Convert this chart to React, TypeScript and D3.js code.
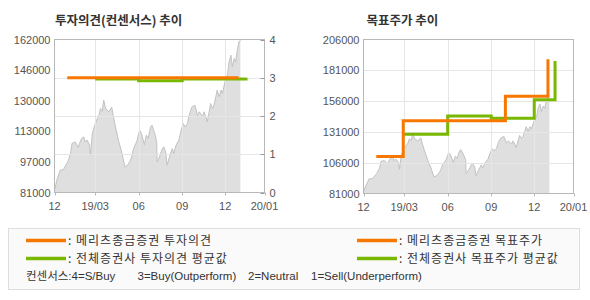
import React from 'react';
import * as d3 from 'd3';

// ---------- DATA ----------
const priceDates = [
  '2018-12-05','2018-12-10','2018-12-17','2018-12-24','2019-01-02','2019-01-08','2019-01-11','2019-01-18',
  '2019-01-24','2019-01-31','2019-02-05','2019-02-08','2019-02-12','2019-02-17','2019-02-19','2019-02-23',
  '2019-02-28','2019-03-04','2019-03-09','2019-03-12','2019-03-16','2019-03-19','2019-03-23','2019-03-30',
  '2019-04-05','2019-04-08','2019-04-13','2019-04-20','2019-04-26','2019-04-29','2019-05-03','2019-05-08',
  '2019-05-13','2019-05-17','2019-05-21','2019-05-26','2019-05-29','2019-06-03','2019-06-07','2019-06-13',
  '2019-06-17','2019-06-21','2019-06-26','2019-06-29','2019-07-05','2019-07-09','2019-07-10','2019-07-15',
  '2019-07-21','2019-07-24','2019-07-28','2019-07-31','2019-08-05','2019-08-11','2019-08-14','2019-08-19',
  '2019-08-25','2019-08-29','2019-09-03','2019-09-07','2019-09-12','2019-09-15','2019-09-19','2019-09-22',
  '2019-09-28','2019-10-03','2019-10-07','2019-10-10','2019-10-14','2019-10-17','2019-10-21','2019-10-24',
  '2019-10-28','2019-10-31','2019-11-04','2019-11-07','2019-11-11','2019-11-14','2019-11-18','2019-11-22',
  '2019-11-25','2019-12-02','2019-12-06','2019-12-09','2019-12-13','2019-12-16','2019-12-20','2019-12-23',
  '2019-12-27','2019-12-30','2020-01-02',
];
const priceValues = [
  82200,87500,92800,93200,97200,101600,107000,107800,
  104900,109600,110400,107800,108800,106000,100700,112200,
  116600,119300,121900,125500,124000,129900,125500,123700,
  126200,121900,115700,107800,102500,99000,94500,95400,
  97200,99800,104200,107000,108800,114000,112200,106300,
  111300,109600,115700,116600,112200,107800,97200,99800,
  104300,105200,102500,95500,99800,104300,101600,106000,
  108800,113100,117500,115700,117500,121000,124600,126300,
  127200,121900,123700,122800,121000,123700,121000,118400,
  123700,128100,125500,127200,131600,135200,131600,135200,
  133400,141400,143200,150100,153700,147500,151900,150100,
  157200,160700,161600,
];

const meritzOpinionDates = ['2019-01-01', '2019-12-29'];
const meritzOpinionValues = [3, 3];
const consOpinionDates = ['2019-03-01', '2019-06-01', '2019-09-01', '2020-01-14'];
const consOpinionValues = [2.97, 2.92, 2.97, 3.0];

const meritzTargetDates = ['2019-01-01', '2019-02-27', '2019-10-01', '2019-12-30'];
const meritzTargetValues = [111000, 140000, 160000, 190000];
const consTargetDates = ['2019-03-01', '2019-06-01', '2019-09-01', '2019-12-01', '2020-01-14'];
const consTargetValues = [129000, 144000, 142000, 157000, 188500];

const xDomain = ['2018-12-05', '2020-02-22'];
const xTickDates = ['2018-12-05', '2019-03-01', '2019-06-01', '2019-09-01', '2019-12-01', '2020-02-22'];
const xTickLabels = ['12', '19/03', '06', '09', '12', '20/01'];

const leftPriceTicks = [81000, 97200, 113400, 129600, 145800, 162000];
const leftPriceLabels = ['81000', '97000', '113000', '130000', '146000', '162000'];
const opinionTicks = [0, 1, 2, 3, 4];
const rightPriceTicks = [81000, 106000, 131000, 156000, 181000, 206000];

const titles = ['투자의견(컨센서스) 추이', '목표주가 추이'];
const legendLabels = ['메리츠종금증권 투자의견', '전체증권사 투자의견 평균값', '메리츠종금증권 목표주가', '전체증권사 목표주가 평균값'];
const consensusNote = ['컨센서스:4=S/Buy', '3=Buy(Outperform)', '2=Neutral', '1=Sell(Underperform)'];

// ---------- STYLE ----------
const ORANGE = '#f77800';
const GREEN = '#78b800';
const GRID = '#e6e6e6';
const FRAME = '#b8b8b8';
const LABEL = '#555';
const NUM_FONT = 'Liberation Sans, Arial, sans-serif';
const KR_FONT = '"Noto Sans CJK KR", sans-serif';

const parse = d3.timeParse('%Y-%m-%d');

type Pt = { d: Date; v: number };
const zip = (ds: string[], vs: number[]): Pt[] => ds.map((s, i) => ({ d: parse(s) as Date, v: vs[i] }));

export default function App() {
  const price = zip(priceDates, priceValues);
  const mOp = zip(meritzOpinionDates, meritzOpinionValues);
  const cOp = zip(consOpinionDates, consOpinionValues);
  const mTg = zip(meritzTargetDates, meritzTargetValues);
  const cTg = zip(consTargetDates, consTargetValues);
  const xd = xDomain.map((s) => parse(s) as Date);
  const xt = xTickDates.map((s) => parse(s) as Date);

  const L = { x0: 54.5, x1: 264.5, y0: 39.5, y1: 192.5 };
  const R = { x0: 363.5, x1: 573.5, y0: 39.5, y1: 193.5 };

  const xL = d3.scaleTime().domain(xd).range([L.x0, L.x1]);
  const yLp = d3.scaleLinear().domain([81000, 162000]).range([L.y1, L.y0]);
  const yLo = d3.scaleLinear().domain([0, 4]).range([L.y1, L.y0]);

  const xR = d3.scaleTime().domain(xd).range([R.x0, R.x1]);
  const yRp = d3.scaleLinear().domain([81000, 206000]).range([R.y1, R.y0]);

  const areaL = d3.area<Pt>().x((p) => xL(p.d)).y0(L.y1).y1((p) => yLp(p.v));
  const lineL = d3.line<Pt>().x((p) => xL(p.d)).y((p) => yLp(p.v));
  const areaR = d3.area<Pt>().x((p) => xR(p.d)).y0(R.y1).y1((p) => yRp(p.v));
  const lineR = d3.line<Pt>().x((p) => xR(p.d)).y((p) => yRp(p.v));

  const stepL = d3.line<Pt>().x((p) => xL(p.d)).y((p) => yLo(p.v)).curve(d3.curveStepAfter);
  const stepR = d3.line<Pt>().x((p) => xR(p.d)).y((p) => yRp(p.v)).curve(d3.curveStepAfter);

  const xAxisTicks = (x: d3.ScaleTime<number, number>, P: typeof L, key: string) =>
    xt.map((t, i) => (
      <g key={key + i}>
        {i > 0 && i < xt.length - 1 && (
          <line x1={Math.round(x(t)) + 0.5} x2={Math.round(x(t)) + 0.5} y1={P.y0} y2={P.y1} stroke={GRID} />
        )}
        <line x1={Math.round(x(t)) + 0.5} x2={Math.round(x(t)) + 0.5} y1={P.y1} y2={P.y1 + 3} stroke={FRAME} />
        <text x={x(t)} y={P.y1 + 17} textAnchor="middle" fontFamily={NUM_FONT} fontSize={11} fill={LABEL}>
          {xTickLabels[i]}
        </text>
      </g>
    ));

  return (
    <svg width={590} height={300} style={{ position: 'absolute', left: 0, top: 0, background: '#fff' }}>
      <text x={55} y={25} fontFamily={KR_FONT} fontWeight="bold" fontSize={12.5} fill="#333">{titles[0]}</text>
      <text x={366.5} y={25} fontFamily={KR_FONT} fontWeight="bold" fontSize={12.5} fill="#333">{titles[1]}</text>

      {/* LEFT PANEL */}
      <path d={areaL(price) || ''} fill="#dfdfdf" />
      <path d={lineL(price) || ''} fill="none" stroke="#c2c2c2" strokeWidth={1} />
      {opinionTicks.slice(1, 4).map((t) => (
        <line key={'lg' + t} x1={L.x0} x2={L.x1} y1={Math.round(yLo(t)) + 0.5} y2={Math.round(yLo(t)) + 0.5} stroke={GRID} />
      ))}
      {xAxisTicks(xL, L, 'lx')}
      <rect x={L.x0} y={L.y0} width={L.x1 - L.x0} height={L.y1 - L.y0} fill="none" stroke={FRAME} />
      {opinionTicks.map((t) => (
        <g key={'ro' + t}>
          <line x1={L.x1 - 4} x2={L.x1} y1={Math.round(yLo(t)) + 0.5} y2={Math.round(yLo(t)) + 0.5} stroke="#999" />
          <text x={L.x1 + 5} y={yLo(t) + 4} fontFamily={NUM_FONT} fontSize={11} fill={LABEL}>{t}</text>
        </g>
      ))}
      {leftPriceTicks.map((t, i) => (
        <text key={'lp' + t} x={L.x0 - 4} y={yLp(t) + 4} textAnchor="end" fontFamily={NUM_FONT} fontSize={11} fill={LABEL}>
          {leftPriceLabels[i]}
        </text>
      ))}
      <path d={stepL(cOp) || ''} fill="none" stroke={GREEN} strokeWidth={3} />
      <path d={stepL(mOp) || ''} fill="none" stroke={ORANGE} strokeWidth={3} />

      {/* RIGHT PANEL */}
      <path d={areaR(price) || ''} fill="#dfdfdf" />
      <path d={lineR(price) || ''} fill="none" stroke="#c2c2c2" strokeWidth={1} />
      {rightPriceTicks.slice(1, 5).map((t) => (
        <line key={'rg' + t} x1={R.x0} x2={R.x1} y1={Math.round(yRp(t)) + 0.5} y2={Math.round(yRp(t)) + 0.5} stroke={GRID} />
      ))}
      {xAxisTicks(xR, R, 'rx')}
      <rect x={R.x0} y={R.y0} width={R.x1 - R.x0} height={R.y1 - R.y0} fill="none" stroke={FRAME} />
      {rightPriceTicks.map((t) => (
        <text key={'rp' + t} x={R.x0 - 4} y={yRp(t) + 4} textAnchor="end" fontFamily={NUM_FONT} fontSize={11} fill={LABEL}>
          {t}
        </text>
      ))}
      <path d={stepR(cTg) || ''} fill="none" stroke={GREEN} strokeWidth={3} />
      <path d={stepR(mTg) || ''} fill="none" stroke={ORANGE} strokeWidth={3} />

      {/* LEGEND */}
      <rect x={8.5} y={228.5} width={571} height={61} fill="#fafafa" stroke="#dedede" />
      {[
        { x: 26, y: 240.5, c: ORANGE, t: legendLabels[0] },
        { x: 26, y: 258.5, c: GREEN, t: legendLabels[1] },
        { x: 357, y: 240.5, c: ORANGE, t: legendLabels[2] },
        { x: 357, y: 258.5, c: GREEN, t: legendLabels[3] },
      ].map((it, i) => (
        <g key={'lgd' + i}>
          <line x1={it.x} x2={it.x + 40} y1={it.y} y2={it.y} stroke={it.c} strokeWidth={3.5} />
          <text x={it.x + 42} y={it.y + 4.5} fontFamily={KR_FONT} fontSize={12} letterSpacing={1} fill="#333">{': ' + it.t}</text>
        </g>
      ))}
      {[26, 137.5, 248, 311].map((x, i) => (
        <text key={'cn' + i} x={x} y={279.5} fontFamily={NUM_FONT + ', "Noto Sans CJK KR"'} fontSize={11.5} fill="#333">
          {consensusNote[i]}
        </text>
      ))}
    </svg>
  );
}
